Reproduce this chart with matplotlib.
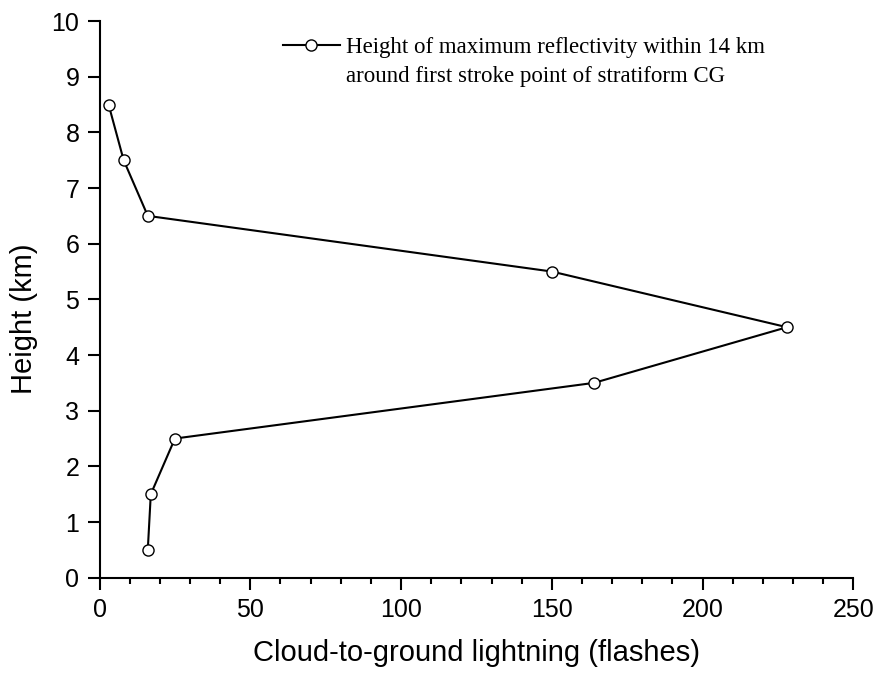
import matplotlib
matplotlib.use("Agg")
import matplotlib.pyplot as plt
from matplotlib.lines import Line2D
from matplotlib.ticker import MultipleLocator

# flashes per height bin
heights = [8.5, 7.5, 6.5, 5.5, 4.5, 3.5, 2.5, 1.5, 0.5]
flashes = [3, 8, 16, 150, 228, 164, 25, 17, 16]
label_lines = ["Height of maximum reflectivity within 14 km",
               "around first stroke point of stratiform CG"]

fig = plt.figure(figsize=(8.84, 6.78), dpi=100)
ax = fig.add_axes([0.1126, 0.1479, 0.8527, 0.8211])

line, = ax.plot(flashes, heights, color="black", linewidth=1.5, marker="o", markersize=8,
                markerfacecolor="white", markeredgecolor="black", markeredgewidth=1.0)

ax.set_xlim(0, 250)
ax.set_ylim(0, 10)
ax.xaxis.set_major_locator(MultipleLocator(50))
ax.xaxis.set_minor_locator(MultipleLocator(10))
ax.yaxis.set_major_locator(MultipleLocator(1))

for side in ("top", "right"):
    ax.spines[side].set_visible(False)
for side in ("left", "bottom"):
    ax.spines[side].set_linewidth(1.5)

ax.tick_params(which="major", direction="out", length=8.5, width=1.5, labelsize=18, pad=6)
ax.tick_params(which="minor", direction="out", length=4.5, width=1.5)
for lbl in ax.get_xticklabels() + ax.get_yticklabels():
    lbl.set_family("Liberation Sans")

ax.set_xlabel("Cloud-to-ground lightning (flashes)", fontsize=21, family="Liberation Sans", labelpad=12)
ax.set_ylabel("Height (km)", fontsize=21, family="Liberation Sans")
# the y label sits a little below the axis centre in the original
ax.yaxis.set_label_coords(-0.082, 0.465)

# legend: handle sits beside the first line of the two-line label
blank = Line2D([], [], linestyle="none")
ax.legend([line, blank], label_lines, loc="upper left", bbox_to_anchor=(0.243, 0.972),
          frameon=False, prop={"family": "Liberation Serif", "size": 16.5},
          handlelength=2.5, handletextpad=0.26, borderaxespad=0, borderpad=0,
          labelspacing=0.38)

fig.savefig("out.png", dpi=100)
